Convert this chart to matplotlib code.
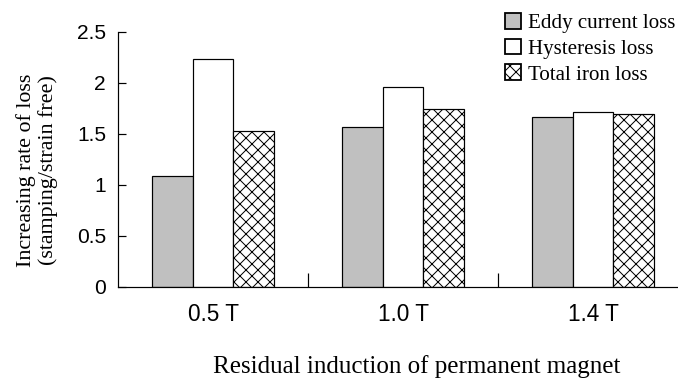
import matplotlib
matplotlib.use("Agg")
import matplotlib.pyplot as plt
import numpy as np

categories = ["0.5 T", "1.0 T", "1.4 T"]
eddy_loss = [1.09, 1.57, 1.66]
hysteresis_loss = [2.23, 1.96, 1.71]
total_iron_loss = [1.53, 1.74, 1.69]
y_ticks = [0, 0.5, 1, 1.5, 2, 2.5]
y_tick_labels = ["0", "0.5", "1", "1.5", "2", "2.5"]

sans = "Liberation Sans"
serif = "Liberation Serif"
plt.rcParams["hatch.color"] = "#404040"
plt.rcParams["hatch.linewidth"] = 1.0

W, H = 678, 378
fig = plt.figure(figsize=(W / 72, H / 72), dpi=72)
ax = fig.add_axes([118 / W, 1 - 287 / H, (W - 118) / W, (287 - 31.7) / H])

x = np.arange(len(categories))
w = 0.214
ax.bar(x - w, eddy_loss, w, color="#c0c0c0", edgecolor="black", linewidth=1.2,
       label="Eddy current loss")
ax.bar(x, hysteresis_loss, w, color="white", edgecolor="black", linewidth=1.2,
       label="Hysteresis loss")
ax.bar(x + w, total_iron_loss, w, color="white", edgecolor="black", linewidth=1.2,
       hatch="xx", label="Total iron loss")

ax.set_xlim(-0.5, (W - 118) / 190 - 0.5)
ax.set_ylim(0, 2.5)
for s in ["top", "right"]:
    ax.spines[s].set_visible(False)
for s in ["left", "bottom"]:
    ax.spines[s].set_linewidth(1.2)

ax.set_yticks(y_ticks)
ax.set_yticklabels(y_tick_labels, fontfamily=sans, fontsize=21)
ax.tick_params(axis="y", direction="in", length=8, width=1.2, pad=12)

# group separators as major ticks, category names on minor ticks
ax.set_xticks([0.5, 1.5])
ax.set_xticklabels([])
ax.tick_params(axis="x", which="major", direction="in", length=14, width=1.2)
ax.set_xticks(x, minor=True)
ax.set_xticklabels(categories, minor=True, fontfamily=sans, fontsize=22.5)
ax.tick_params(axis="x", which="minor", length=0, pad=16)

fig.text(37 / W, 1 - 170 / H, "Increasing rate of loss\n(stamping/strain free)",
         rotation=90, ha="center", va="center", multialignment="center",
         fontfamily=serif, fontsize=22, linespacing=1.2)
fig.text(417 / W, 1 - 367 / H, "Residual induction of permanent magnet",
         ha="center", va="center", fontfamily=serif, fontsize=25)

leg = fig.legend(loc="upper left", bbox_to_anchor=(505 / W, 1 - 13 / H),
                 frameon=False, prop={"family": serif, "size": 21},
                 handlelength=0.78, handleheight=0.78, handletextpad=0.3,
                 labelspacing=0.26, borderpad=0, borderaxespad=0)
for patch in leg.get_patches():
    patch.set_linewidth(1.8)

fig.savefig("out.png", dpi=72)
